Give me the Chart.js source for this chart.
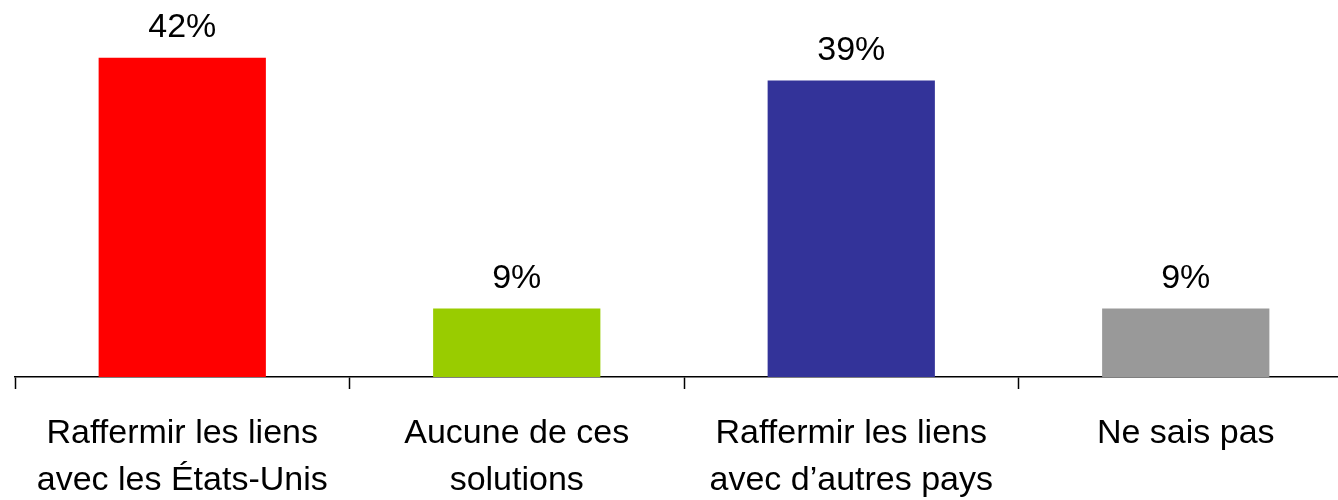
<!DOCTYPE html>
<html>
<head>
<meta charset="utf-8">
<script src="https://cdn.jsdelivr.net/npm/chart.js@4/dist/chart.umd.min.js"></script>
<style>
  html, body { margin: 0; padding: 0; background: #fff; overflow: hidden; }
  #wrap { width: 1338px; height: 500px; overflow: hidden; }
</style>
</head>
<body>
<div id="wrap"><canvas id="chart" width="1353" height="500"></canvas></div>
<script>
// Kategorien (mehrzeilige Achsenbeschriftungen)
const categories = [
  ['Raffermir les liens', 'avec les États-Unis'],
  ['Aucune de ces', 'solutions'],
  ['Raffermir les liens', 'avec d\u2019autres pays'],
  ['Ne sais pas']
];

// Werte in Prozent
const values = [42, 9, 39, 9];

// Balkenfarben
const barColors = ['#ff0000', '#99cc00', '#333399', '#999999'];

const FONT = '"Liberation Sans", Arial, Helvetica, sans-serif';

// Zeichnet die Prozentwerte über den Balken.
const valueLabels = {
  id: 'valueLabels',
  afterDatasetsDraw(chart) {
    const ctx = chart.ctx;
    const meta = chart.getDatasetMeta(0);
    ctx.save();
    ctx.font = '34px ' + FONT;
    ctx.fillStyle = '#000';
    ctx.textAlign = 'center';
    ctx.textBaseline = 'alphabetic';
    meta.data.forEach((bar, i) => {
      ctx.fillText(values[i] + '%', bar.x, bar.y - 21);
    });
    ctx.restore();
  }
};

new Chart(document.getElementById('chart'), {
  type: 'bar',
  data: {
    labels: categories,
    datasets: [{
      data: values,
      backgroundColor: barColors,
      borderWidth: 0,
      barPercentage: 1,
      categoryPercentage: 0.5
    }]
  },
  options: {
    responsive: false,
    animation: false,
    layout: { padding: { left: 15, right: 0, top: 0, bottom: 0 } },
    plugins: {
      legend: { display: false },
      tooltip: { enabled: false }
    },
    scales: {
      x: {
        // feste Höhe, damit die Achse bei y≈377 liegt
        afterFit(scale) { scale.height = 123; },
        grid: {
          display: true,
          drawOnChartArea: false,
          drawTicks: true,
          tickLength: 12,
          tickColor: '#000',
          tickWidth: 1.5,
          offset: true
        },
        border: { display: true, color: '#000', width: 1.5 },
        ticks: {
          color: '#000',
          padding: 22,
          autoSkip: false,
          maxRotation: 0,
          font: { family: FONT, size: 34, lineHeight: 1.36 }
        }
      },
      y: {
        display: false,
        min: 0,
        max: 49.6
      }
    }
  },
  plugins: [valueLabels]
});
</script>
</body>
</html>
